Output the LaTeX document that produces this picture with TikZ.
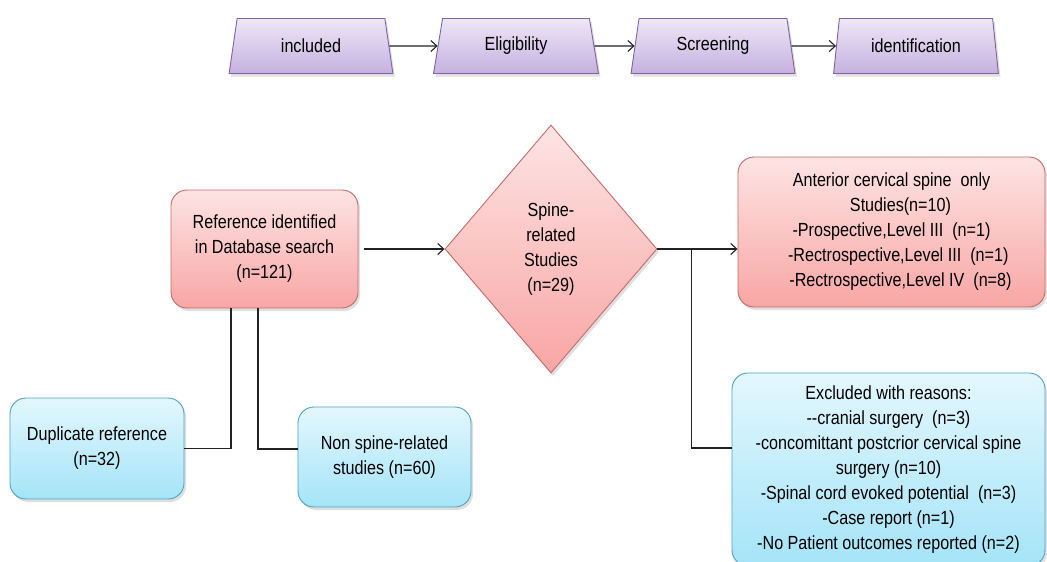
\documentclass[tikz,border=0pt]{standalone}
\usepackage{fontspec}
\setmainfont{Liberation Sans}[FakeStretch=0.85]
\usetikzlibrary{shapes.geometric,arrows.meta,shadows}
\definecolor{redtop}{HTML}{FDE4E4}
\definecolor{redbot}{HTML}{F8A6A4}
\definecolor{redline}{HTML}{C86A68}
\definecolor{bluetop}{HTML}{E3F7FD}
\definecolor{bluebot}{HTML}{A4E4F8}
\definecolor{blueline}{HTML}{4FA3C2}
\definecolor{purtop}{HTML}{EEE7F6}
\definecolor{purbot}{HTML}{C5B1E0}
\definecolor{purline}{HTML}{8064A2}
\definecolor{lncol}{HTML}{222222}
\tikzset{
  txt/.style={font=\fontsize{19}{25}\selectfont, align=center, text=black},
  shad/.style={drop shadow={opacity=0.25, shadow xshift=2pt, shadow yshift=-3pt}},
  redbox/.style={txt, shad, rectangle, rounded corners=16pt, draw=redline, line width=0.9pt, top color=redtop, bottom color=redbot, inner sep=4pt},
  bluebox/.style={txt, shad, rectangle, rounded corners=16pt, draw=blueline, line width=0.9pt, top color=bluetop, bottom color=bluebot, inner sep=4pt},
  stage/.style={txt, shad, trapezium, trapezium stretches=true, trapezium left angle=80, trapezium right angle=80, minimum width=165pt, minimum height=55pt, draw=purline, line width=0.9pt, top color=purtop, bottom color=purbot},
  decide/.style={txt, shad, diamond, minimum width=212pt, minimum height=248pt, inner sep=0pt, draw=redline, line width=0.9pt, top color=redtop, bottom color=redbot},
  conn/.style={draw=lncol, line width=1.1pt},
  arr/.style={conn, -{Straight Barb[length=6pt,width=11pt]}}
}
\begin{document}
\begin{tikzpicture}[x=1pt,y=-1pt]
\useasboundingbox (0,0) rectangle (1047,562);
% top stages
\node[stage] (inc) at (311,46) {included};
\node[stage] (eli) at (516,46) {Eligibility};
\node[stage] (scr) at (713,46) {Screening};
\node[stage] (ide) at (916,46) {identification};
\draw[arr] (inc.east) -- (eli.west);
\draw[arr] (eli.east) -- (scr.west);
\draw[arr] (scr.east) -- (ide.west);
% main flow
\node[redbox, minimum width=187pt, minimum height=118pt] (ref) at (264.5,249) {Reference identified\\in Database search\\(n=121)};
\node[decide] (dia) at (551,249) {Spine-\\related\\Studies\\(n=29)};
\node[redbox, minimum width=307pt, minimum height=150pt] (ant) at (891.5,232) {Anterior cervical spine\ \ only\\\ \ \ \ Studies(n=10)\\-Prospective,Level III\ \ (n=1)\\\ \ \ -Rectrospective,Level III\ \ (n=1)\\\ \ \ \ -Rectrospective,Level IV\ \ (n=8)};
\node[bluebox, minimum width=313pt, minimum height=193pt] (exc) at (888.5,469.5) {Excluded with reasons:\\-{}-cranial surgery\ \ (n=3)\\-concomittant postcrior cervical spine\\surgery (n=10)\\-Spinal cord evoked potential\ \ (n=3)\\-Case report (n=1)\\-No Patient outcomes reported (n=2)};
\node[bluebox, minimum width=174pt, minimum height=101pt] (dup) at (97,448.5) {Duplicate reference\\(n=32)};
\node[bluebox, minimum width=173pt, minimum height=100pt] (non) at (384.5,457) {Non spine-related\\studies (n=60)};
% connectors
\draw[arr, shorten <=6pt] (ref.east) -- (dia.west);
\coordinate (j) at ([xshift=34pt]dia.east);
\draw[arr] (dia.east) -- (dia.east -| ant.west);
\draw[conn] (j) |- ([yshift=21.5pt]exc.west);
\draw[conn] ([xshift=-33.5pt]ref.south) |- (dup.east);
\draw[conn] ([xshift=-6.5pt]ref.south) |- ([yshift=8pt]non.west);
\end{tikzpicture}
\end{document}
